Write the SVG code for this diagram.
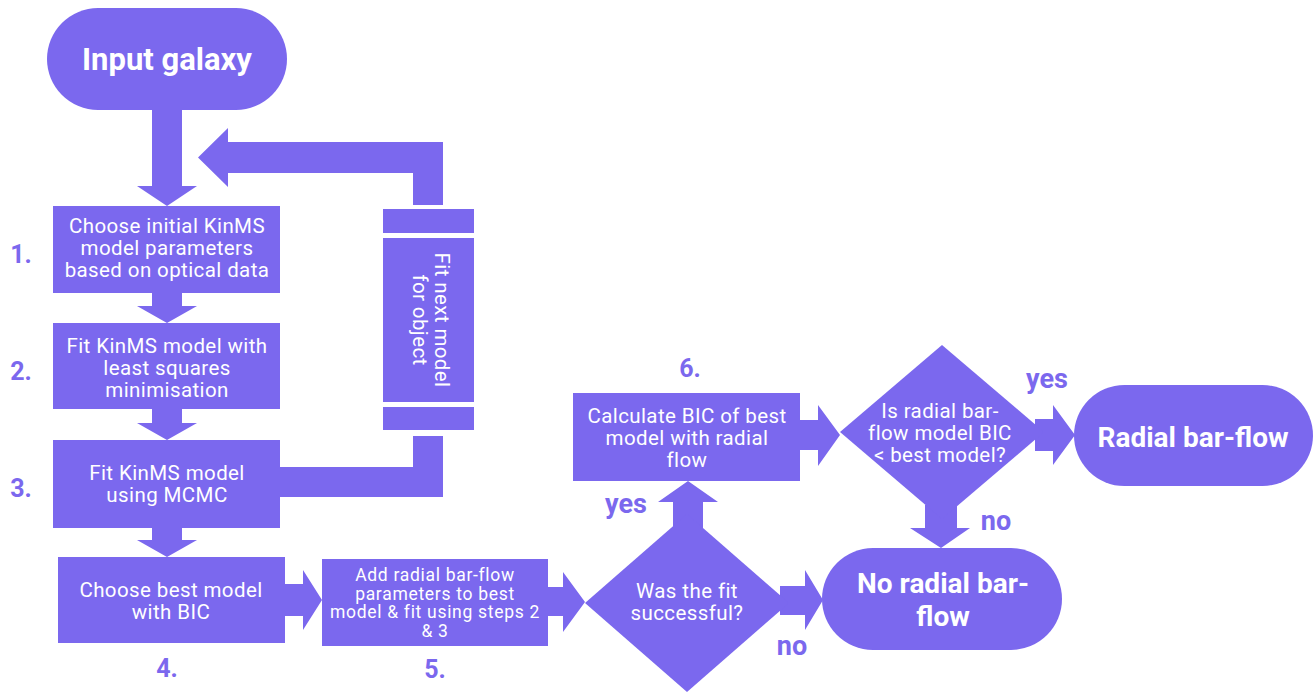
<svg xmlns="http://www.w3.org/2000/svg" width="1314" height="692" viewBox="0 0 1314 692">
<style>
.s{fill:#7b68ee}
.t{font-family:Roboto,"Liberation Sans",sans-serif;fill:#ffffff;text-anchor:middle}
.r{font-size:20.5px;font-weight:400;letter-spacing:0.4px}
.sm{font-size:17.5px;font-weight:400;letter-spacing:0.7px}
.b{font-size:28px;font-weight:700}
.l{font-family:Roboto,"Liberation Sans",sans-serif;fill:#7b68ee;font-weight:700;text-anchor:middle;font-size:25px}
.y{font-size:27px}
</style>
<rect width="1314" height="692" fill="#ffffff"/>
<g id="connectors" class="s">
<polygon points="152,108 182,108 182,186 197,186 167,206 137,186 152,186"/>
<polygon points="152,292 182,292 182,306 197,306 167,323 137,306 152,306"/>
<polygon points="152,408 182,408 182,423 197,423 167,440 137,423 152,423"/>
<polygon points="152,527 182,527 182,540 197,540 167,557 137,540 152,540"/>
<polygon points="284,584 303,584 303,570 322,600 303,630 303,616 284,616"/>
<polygon points="547,587 563,587 563,572 585,602 563,632 563,616 547,616"/>
<polygon points="780,586 805,586 805,570 823,600 805,630 805,615 780,615"/>
<polygon points="673,530 673,502 658,502 688,481 718,502 703,502 703,530"/>
<polygon points="799,420 818,420 818,405 840,435 818,466 818,450 799,450"/>
<polygon points="1035,419 1053,419 1053,405 1075,435 1053,465 1053,451 1035,451"/>
<polygon points="925,505 957,505 957,528 970,528 941,548 910,528 925,528"/>
<polygon points="279,467 413,467 413,436 443,436 443,497 279,497"/>
<polygon points="413,205 413,173 228,173 228,187 198,157.5 228,128 228,142 443,142 443,205"/>
</g>
<g id="input">
<rect class="s" x="47" y="8" width="240" height="102" rx="51"/>
<text class="t" x="167" y="70" font-size="31" font-weight="700">Input galaxy</text>
</g>
<g id="step1">
<rect class="s" x="53" y="206" width="227" height="87"/>
<text class="t r" x="167" y="233">Choose initial KinMS</text>
<text class="t r" x="167" y="255">model parameters</text>
<text class="t r" x="167" y="277">based on optical data</text>
</g>
<g id="step2">
<rect class="s" x="53" y="323" width="227" height="86"/>
<text class="t r" x="167" y="353">Fit KinMS model with</text>
<text class="t r" x="167" y="375">least squares</text>
<text class="t r" x="167" y="397">minimisation</text>
</g>
<g id="step3">
<rect class="s" x="53" y="440" width="227" height="88"/>
<text class="t r" x="167" y="480">Fit KinMS model</text>
<text class="t r" x="167" y="502">using MCMC</text>
</g>
<g id="step4">
<rect class="s" x="58" y="557" width="227" height="86"/>
<text class="t r" x="171" y="597">Choose best model</text>
<text class="t r" x="171" y="619">with BIC</text>
</g>
<g id="fitnext">
<rect class="s" x="383" y="209" width="91" height="24"/>
<rect class="s" x="383" y="238" width="91" height="164"/>
<rect class="s" x="383" y="407" width="91" height="23"/>
<text class="t r" transform="translate(435,320) rotate(90)">Fit next model</text>
<text class="t r" transform="translate(413,320) rotate(90)">for object</text>
</g>
<g id="step5">
<rect class="s" x="322" y="559" width="226" height="87"/>
<text class="t sm" x="435" y="581">Add radial bar-flow</text>
<text class="t sm" x="435" y="599.5">parameters to best</text>
<text class="t sm" x="435" y="618">model &amp; fit using steps 2</text>
<text class="t sm" x="435" y="636.5">&amp; 3</text>
</g>
<g id="decision1">
<polygon class="s" points="585,603 687,514 789,603 687,692"/>
<text class="t r" x="687" y="598">Was the fit</text>
<text class="t r" x="687" y="620">successful?</text>
</g>
<g id="step6">
<rect class="s" x="573" y="393" width="227" height="88"/>
<text class="t r" x="687" y="423">Calculate BIC of best</text>
<text class="t r" x="687" y="445">model with radial</text>
<text class="t r" x="687" y="467">flow</text>
</g>
<g id="decision2">
<polygon class="s" points="840,432 942,345 1044,432 942,519"/>
<text class="t r" x="940" y="418">Is radial bar-</text>
<text class="t r" x="940" y="440">flow model BIC</text>
<text class="t r" x="940" y="462">&lt; best model?</text>
</g>
<g id="radial">
<rect class="s" x="1074" y="385" width="239" height="101" rx="50.5"/>
<text class="t b" x="1193" y="447">Radial bar-flow</text>
</g>
<g id="noradial">
<rect class="s" x="822" y="548" width="240" height="102" rx="51"/>
<text class="t b" x="943" y="593">No radial bar-</text>
<text class="t b" x="943" y="626">flow</text>
</g>
<g id="labels">
<text class="l" x="21" y="263">1.</text>
<text class="l" x="21" y="380">2.</text>
<text class="l" x="21" y="497">3.</text>
<text class="l" x="167" y="677">4.</text>
<text class="l" x="435" y="678">5.</text>
<text class="l" x="690" y="377">6.</text>
<text class="l y" x="626" y="513">yes</text>
<text class="l y" x="792" y="655">no</text>
<text class="l y" x="1047" y="388">yes</text>
<text class="l y" x="996" y="530">no</text>
</g>
</svg>
